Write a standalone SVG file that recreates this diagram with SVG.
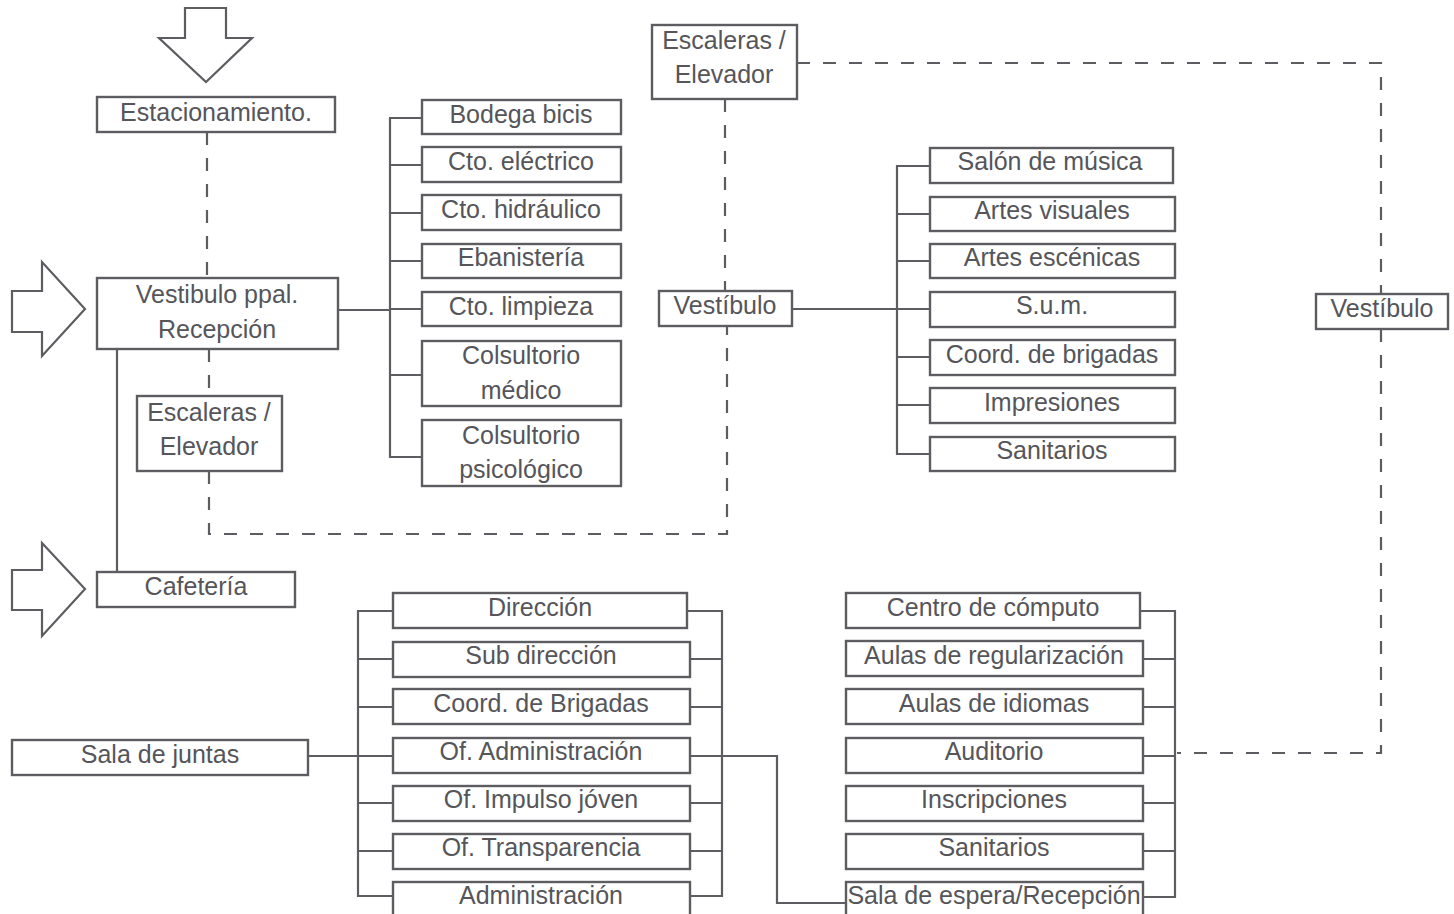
<svg xmlns="http://www.w3.org/2000/svg" width="1454" height="914" viewBox="0 0 1454 914">
<style>
.b{fill:#fff;stroke:#5c5c61;stroke-width:2.4}
.t{font-family:"Liberation Sans",Arial,sans-serif;font-size:25px;fill:#55555a;text-anchor:middle}
.l{fill:none;stroke:#5c5c61;stroke-width:2.2}
.d{fill:none;stroke:#5c5c61;stroke-width:2.2;stroke-dasharray:13 13}
.a{fill:#fff;stroke:#5c5c61;stroke-width:2.2;stroke-linejoin:miter}
</style>
<rect width="1454" height="914" fill="#fff"/>
<g id="connectors">
<path class="d" d="M207 132V278"/>
<path class="d" d="M209 349V396"/>
<path class="d" d="M209 471V534H727V325"/>
<path class="d" d="M725 99V291"/>
<path class="d" d="M797 63H1381V294"/>
<path class="d" d="M1381 329V753H1177"/>
<path class="l" d="M117 349V572"/>
<path class="l" d="M338 310H390"/>
<path class="l" d="M422 118H390V457H422M390 165H422M390 213H422M390 261H422M390 309H422M390 375H422"/>
<path class="l" d="M792 309H897"/>
<path class="l" d="M930 166H897V454H930M897 214H930M897 261H930M897 309H930M897 357H930M897 405H930"/>
<path class="l" d="M308 756H358"/>
<path class="l" d="M393 611H358V896H393M358 659H393M358 707H393M358 756H393M358 803H393M358 851H393"/>
<path class="l" d="M687 611H722V896H690M690 659H722M690 707H722M690 803H722M690 851H722"/>
<path class="l" d="M690 756H777V903H846"/>
<path class="l" d="M1140 611H1175V897H1143M1143 659H1175M1143 707H1175M1143 756H1175M1143 803H1175M1143 851H1175"/>
</g>
<g id="arrow-top"><polygon class="a" points="185,8 226,8 226,38 252,38 206,82 159,38 185,38"/></g>
<g id="arrow-vestibulo"><polygon class="a" points="12,291 42,291 42,262 85,309 42,356 42,332 12,332"/></g>
<g id="arrow-cafeteria"><polygon class="a" points="12,570 42,570 42,543 85,589 42,636 42,610 12,610"/></g>
<g id="estacionamiento"><rect class="b" x="97" y="97" width="238" height="35"/><text class="t" x="216" y="121">Estacionamiento.</text></g>
<g id="vestibulo-ppal"><rect class="b" x="97" y="278" width="241" height="71"/><text class="t" x="217" y="303">Vestibulo ppal.</text><text class="t" x="217" y="338">Recepción</text></g>
<g id="escaleras-1"><rect class="b" x="137" y="396" width="145" height="75"/><text class="t" x="209" y="421">Escaleras /</text><text class="t" x="209" y="455">Elevador</text></g>
<g id="cafeteria"><rect class="b" x="97" y="572" width="198" height="35"/><text class="t" x="196" y="595">Cafetería</text></g>
<g id="bodega-bicis"><rect class="b" x="422" y="100" width="199" height="34"/><text class="t" x="521" y="123">Bodega bicis</text></g>
<g id="cto-electrico"><rect class="b" x="422" y="147" width="199" height="35"/><text class="t" x="521" y="170">Cto. eléctrico</text></g>
<g id="cto-hidraulico"><rect class="b" x="422" y="195" width="199" height="35"/><text class="t" x="521" y="218">Cto. hidráulico</text></g>
<g id="ebanisteria"><rect class="b" x="422" y="244" width="199" height="34"/><text class="t" x="521" y="266">Ebanistería</text></g>
<g id="cto-limpieza"><rect class="b" x="422" y="292" width="199" height="34"/><text class="t" x="521" y="315">Cto. limpieza</text></g>
<g id="consultorio-medico"><rect class="b" x="422" y="341" width="199" height="65"/><text class="t" x="521" y="364">Colsultorio</text><text class="t" x="521" y="399">médico</text></g>
<g id="consultorio-psicologico"><rect class="b" x="422" y="420" width="199" height="66"/><text class="t" x="521" y="444">Colsultorio</text><text class="t" x="521" y="478">psicológico</text></g>
<g id="escaleras-2"><rect class="b" x="652" y="25" width="145" height="74"/><text class="t" x="724" y="49">Escaleras /</text><text class="t" x="724" y="83">Elevador</text></g>
<g id="vestibulo-2"><rect class="b" x="659" y="291" width="133" height="35"/><text class="t" x="725" y="314">Vestíbulo</text></g>
<g id="salon-musica"><rect class="b" x="930" y="148" width="243" height="35"/><text class="t" x="1050" y="170">Salón de música</text></g>
<g id="artes-visuales"><rect class="b" x="930" y="197" width="245" height="34"/><text class="t" x="1052" y="219">Artes visuales</text></g>
<g id="artes-escenicas"><rect class="b" x="930" y="244" width="245" height="34"/><text class="t" x="1052" y="266">Artes escénicas</text></g>
<g id="sum"><rect class="b" x="930" y="292" width="245" height="35"/><text class="t" x="1052" y="314">S.u.m.</text></g>
<g id="coord-brigadas-1"><rect class="b" x="930" y="340" width="245" height="35"/><text class="t" x="1052" y="363">Coord. de brigadas</text></g>
<g id="impresiones"><rect class="b" x="930" y="388" width="245" height="35"/><text class="t" x="1052" y="411">Impresiones</text></g>
<g id="sanitarios-1"><rect class="b" x="930" y="437" width="245" height="34"/><text class="t" x="1052" y="459">Sanitarios</text></g>
<g id="vestibulo-3"><rect class="b" x="1316" y="294" width="132" height="35"/><text class="t" x="1382" y="317">Vestíbulo</text></g>
<g id="sala-juntas"><rect class="b" x="12" y="740" width="296" height="35"/><text class="t" x="160" y="763">Sala de juntas</text></g>
<g id="direccion"><rect class="b" x="393" y="593" width="294" height="35"/><text class="t" x="540" y="616">Dirección</text></g>
<g id="sub-direccion"><rect class="b" x="393" y="642" width="297" height="35"/><text class="t" x="541" y="664">Sub dirección</text></g>
<g id="coord-brigadas-2"><rect class="b" x="393" y="689" width="297" height="35"/><text class="t" x="541" y="712">Coord. de Brigadas</text></g>
<g id="of-administracion"><rect class="b" x="393" y="738" width="297" height="35"/><text class="t" x="541" y="760">Of. Administración</text></g>
<g id="of-impulso"><rect class="b" x="393" y="786" width="297" height="35"/><text class="t" x="541" y="808">Of. Impulso jóven</text></g>
<g id="of-transparencia"><rect class="b" x="393" y="834" width="297" height="35"/><text class="t" x="541" y="856">Of. Transparencia</text></g>
<g id="administracion"><rect class="b" x="393" y="882" width="297" height="40"/><text class="t" x="541" y="904">Administración</text></g>
<g id="centro-computo"><rect class="b" x="846" y="593" width="294" height="35"/><text class="t" x="993" y="616">Centro de cómputo</text></g>
<g id="aulas-regularizacion"><rect class="b" x="846" y="641" width="297" height="35"/><text class="t" x="994" y="664">Aulas de regularización</text></g>
<g id="aulas-idiomas"><rect class="b" x="846" y="689" width="297" height="35"/><text class="t" x="994" y="712">Aulas de idiomas</text></g>
<g id="auditorio"><rect class="b" x="846" y="738" width="297" height="35"/><text class="t" x="994" y="760">Auditorio</text></g>
<g id="inscripciones"><rect class="b" x="846" y="786" width="297" height="35"/><text class="t" x="994" y="808">Inscripciones</text></g>
<g id="sanitarios-2"><rect class="b" x="846" y="834" width="297" height="35"/><text class="t" x="994" y="856">Sanitarios</text></g>
<g id="sala-espera"><rect class="b" x="846" y="882" width="297" height="40"/><text class="t" x="994" y="904">Sala de espera/Recepción</text></g>
</svg>
